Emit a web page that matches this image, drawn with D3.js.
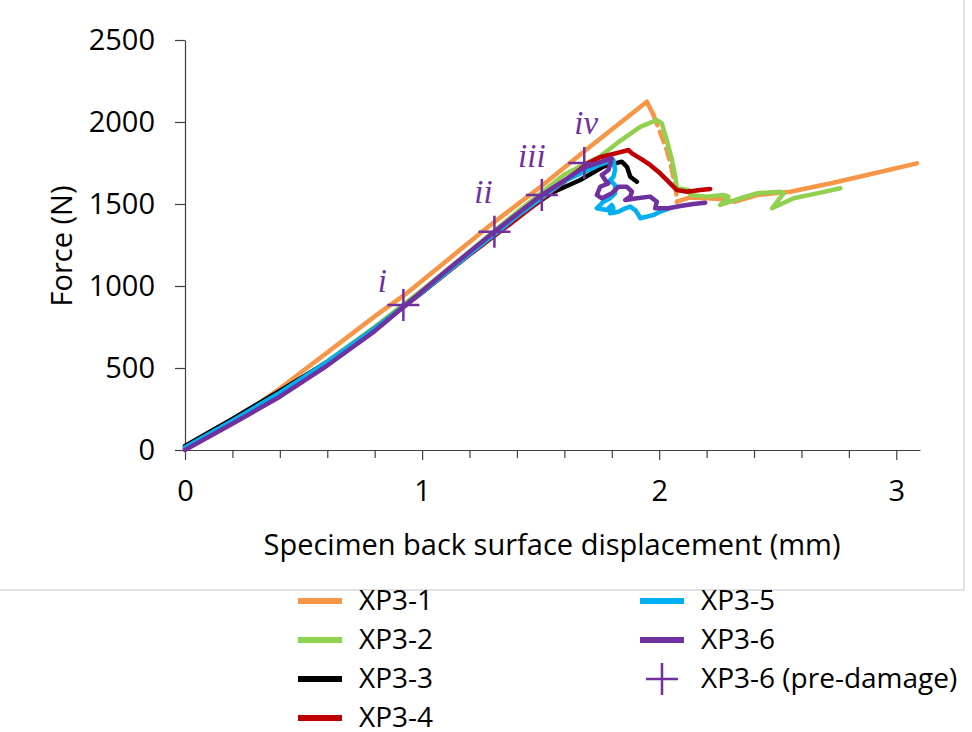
<!DOCTYPE html>
<html lang="en">
<head>
<meta charset="UTF-8">
<title>Force vs displacement</title>
<script src="https://d3js.org/d3.v7.min.js"></script>
<style>
  body { margin: 0; background: #fff; }
  svg { display: block; }
  .tick text { font-family: 'Open Sans', sans-serif; font-size: 29px; fill: #000; }
  .axis path, .axis line { stroke: #404040; stroke-width: 1.2; }
  .title { font-family: 'Open Sans', sans-serif; font-size: 29px; fill: #000; }
  .legend text { font-family: 'Open Sans', sans-serif; font-size: 28px; fill: #000; }
  .roman { font-family: 'Liberation Serif', serif; font-style: italic; font-size: 33px; fill: #7030A0; }
</style>
</head>
<body>
<svg id="chart" width="972" height="732"></svg>
<script>
// series data: [displacement (mm), force (N)]
const xp31 = [[0,10],[0.2,170],[0.4,375],[0.6,595],[0.8,815],[0.93,950],[1.1,1150],[1.3,1385],[1.5,1605],[1.7,1840],[1.948,2124],[1.976,2043]];
const xp31Drop = [[1.976,2043],[2.032,1829],[2.054,1707],[2.068,1606],[2.075,1535],[2.075,1514]];
const xp31Post = [[2.075,1514],[2.131,1540],[2.257,1530],[2.32,1514],[2.412,1555],[2.553,1575],[2.73,1628],[2.876,1677],[3.087,1748]];
const xp32 = [[0,10],[0.2,172],[0.4,350],[0.6,540],[0.8,750],[1.0,975],[1.2,1210],[1.4,1450],[1.6,1680],[1.75,1790],[1.84,1890],[1.92,1970],[1.99,2012],[2.011,1992],[2.032,1890],[2.054,1768],[2.068,1666],[2.075,1596],[2.124,1585],[2.131,1555],[2.201,1545],[2.271,1555],[2.292,1545],[2.257,1494],[2.342,1535],[2.412,1565],[2.511,1575],[2.525,1565],[2.476,1474],[2.567,1535],[2.665,1565],[2.764,1596]];
const xp33 = [[0,25],[0.2,190],[0.4,360],[0.6,535],[0.8,740],[1.0,960],[1.2,1200],[1.4,1420],[1.55,1570],[1.667,1646],[1.765,1728],[1.842,1758],[1.864,1727],[1.878,1666],[1.906,1636]];
const xp34 = [[0,10],[0.2,175],[0.4,345],[0.6,530],[0.8,740],[1.0,960],[1.2,1190],[1.4,1410],[1.55,1580],[1.70,1750],[1.75,1785],[1.82,1810],[1.871,1829],[1.885,1809],[1.92,1778],[1.962,1738],[2.004,1687],[2.039,1636],[2.061,1605],[2.075,1585],[2.117,1575],[2.173,1585],[2.215,1592]];
const xp35 = [[0,15],[0.2,178],[0.4,350],[0.6,538],[0.8,742],[1.0,962],[1.2,1195],[1.4,1425],[1.6,1640],[1.75,1740],[1.807,1768],[1.814,1707],[1.807,1666],[1.793,1646],[1.814,1616],[1.814,1565],[1.793,1535],[1.765,1514],[1.737,1474],[1.779,1463],[1.800,1494],[1.807,1474],[1.793,1443],[1.828,1453],[1.857,1474],[1.878,1484],[1.899,1463],[1.913,1433],[1.920,1413],[1.948,1423],[1.976,1433],[2.004,1453],[2.038,1470]];
const xp36 = [[0,0],[0.2,160],[0.4,325],[0.6,515],[0.8,725],[0.92,870],[1.1,1090],[1.3,1325],[1.5,1550],[1.68,1720],[1.80,1779],[1.786,1707],[1.758,1677],[1.772,1646],[1.786,1626],[1.751,1605],[1.737,1555],[1.758,1535],[1.800,1565],[1.828,1605],[1.864,1605],[1.885,1575],[1.878,1545],[1.857,1524],[1.906,1535],[1.962,1545],[1.990,1514],[1.983,1474],[2.039,1474],[2.089,1488],[2.145,1500],[2.194,1508]];
const preDamage = [[0.921,884],[1.305,1331],[1.505,1555],[1.684,1750]];
const preDamageLabels = ["i", "ii", "iii", "iv"];

const xTicks = [0, 1, 2, 3];
const yTicks = [0, 500, 1000, 1500, 2000, 2500];
const legendNames = ["XP3-1", "XP3-2", "XP3-3", "XP3-4", "XP3-5", "XP3-6", "XP3-6 (pre-damage)"];
const colors = ["#F79646", "#92D050", "#000000", "#C00000", "#00B0F0", "#7030A0", "#7030A0"];

const svg = d3.select("#chart");

const x = d3.scaleLinear().domain([0, 3.1]).range([185, 920]);
const y = d3.scaleLinear().domain([0, 2500]).range([450, 40]);

// figure frame (right and bottom edges only are visible)
svg.append("line").attr("x1", 964).attr("x2", 964).attr("y1", 0).attr("y2", 590)
  .attr("stroke", "#d9d9d9").attr("stroke-width", 1.5);
svg.append("line").attr("x1", 0).attr("x2", 964).attr("y1", 590).attr("y2", 590)
  .attr("stroke", "#d9d9d9").attr("stroke-width", 1.5);

// axes
svg.append("g").attr("class", "axis")
  .attr("transform", "translate(0,450)")
  .call(d3.axisBottom(x).tickValues(d3.range(0.2, 3.1, 0.2).filter(v => Math.abs(v - Math.round(v)) > 0.01))
    .tickSize(8).tickFormat("").tickSizeOuter(0))
  .select(".domain").remove();

svg.append("g").attr("class", "axis")
  .attr("transform", "translate(0,450)")
  .call(d3.axisBottom(x).tickValues(xTicks).tickFormat(d3.format("d")).tickSize(10).tickPadding(20).tickSizeOuter(0));

svg.append("g").attr("class", "axis")
  .attr("transform", "translate(185,0)")
  .call(d3.axisLeft(y).tickValues(yTicks).tickFormat(d3.format("d")).tickSize(10).tickPadding(20).tickSizeOuter(0));

svg.append("text").attr("class", "title")
  .attr("x", 552).attr("y", 555).attr("text-anchor", "middle")
  .text("Specimen back surface displacement (mm)");

svg.append("text").attr("class", "title")
  .attr("transform", "translate(72,246) rotate(-90)").attr("text-anchor", "middle")
  .text("Force (N)");

// curves
const line = d3.line().x(d => x(d[0])).y(d => y(d[1]));
const series = [
  { data: xp31, color: colors[0] },
  { data: xp31Drop, color: colors[0], dash: "11,7" },
  { data: xp31Post, color: colors[0] },
  { data: xp32, color: colors[1] },
  { data: xp33, color: colors[2] },
  { data: xp34, color: colors[3] },
  { data: xp35, color: colors[4] },
  { data: xp36, color: colors[5] }
];

svg.append("g").selectAll("path")
  .data(series)
  .enter()
  .append("path")
  .attr("d", d => line(d.data))
  .attr("fill", "none")
  .attr("stroke", d => d.color)
  .attr("stroke-width", 4.5)
  .attr("stroke-linejoin", "round")
  .attr("stroke-linecap", "round")
  .attr("stroke-dasharray", d => d.dash || null);

// pre-damage markers
const cross = "M-16,0H16M0,-16V16";
svg.append("g").selectAll("path")
  .data(preDamage)
  .enter()
  .append("path")
  .attr("transform", d => `translate(${x(d[0])},${y(d[1])})`)
  .attr("d", cross)
  .attr("stroke", colors[6])
  .attr("stroke-width", 2.5);

const labelOffsets = [[-21, -13], [-11, -29], [-10, -28], [2, -29]];
svg.append("g").selectAll("text")
  .data(preDamage)
  .enter()
  .append("text")
  .attr("class", "roman")
  .attr("text-anchor", "middle")
  .attr("x", (d, i) => x(d[0]) + labelOffsets[i][0])
  .attr("y", (d, i) => y(d[1]) + labelOffsets[i][1])
  .text((d, i) => preDamageLabels[i]);

// legend
const legend = svg.append("g").attr("class", "legend");
legendNames.forEach((name, i) => {
  const col = i < 4 ? 0 : 1;
  const row = i < 4 ? i : i - 4;
  const lx = col === 0 ? 298 : 640;
  const ly = 601 + row * 39;
  const g = legend.append("g").attr("transform", `translate(${lx},${ly})`);
  if (i === 6) {
    g.append("path").attr("transform", "translate(22,0)").attr("d", cross)
      .attr("stroke", colors[i]).attr("stroke-width", 2.5);
  } else {
    g.append("line").attr("x1", 0).attr("x2", 44).attr("y1", 0).attr("y2", 0)
      .attr("stroke", colors[i]).attr("stroke-width", 6);
  }
  g.append("text").attr("x", 61).attr("y", 0).attr("dy", "0.33em").text(name);
});
</script>
</body>
</html>
